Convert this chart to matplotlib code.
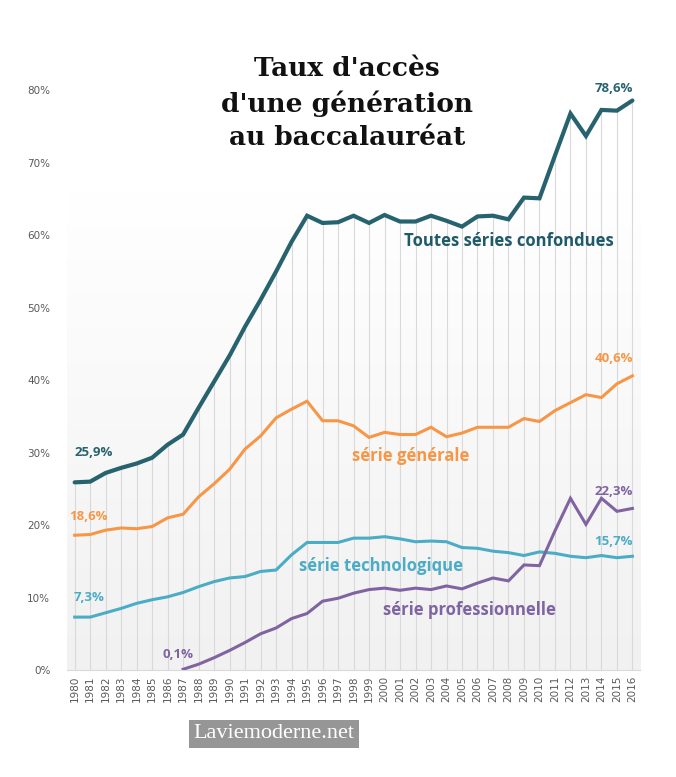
import numpy as np
import matplotlib
matplotlib.use("Agg")
import matplotlib.pyplot as plt

# data (percent)
years = list(range(1980, 2017))
total = [25.9, 26.0, 27.2, 27.9, 28.5, 29.3, 31.1, 32.5, 36.2, 39.8, 43.4, 47.4, 51.1, 55.0, 59.1,
         62.7, 61.7, 61.8, 62.7, 61.7, 62.8, 61.9, 61.9, 62.7, 62.0, 61.2, 62.6, 62.7, 62.2, 65.2,
         65.1, 71.0, 76.8, 73.7, 77.3, 77.2, 78.6]
generale = [18.6, 18.7, 19.3, 19.6, 19.5, 19.8, 21.0, 21.5, 23.9, 25.7, 27.7, 30.5, 32.3, 34.8, 36.0,
            37.1, 34.4, 34.4, 33.7, 32.1, 32.8, 32.5, 32.5, 33.5, 32.2, 32.7, 33.5, 33.5, 33.5, 34.7,
            34.3, 35.8, 36.9, 38.0, 37.6, 39.5, 40.6]
techno = [7.3, 7.3, 7.9, 8.5, 9.2, 9.7, 10.1, 10.7, 11.5, 12.2, 12.7, 12.9, 13.6, 13.8, 15.9,
          17.6, 17.6, 17.6, 18.2, 18.2, 18.4, 18.1, 17.7, 17.8, 17.7, 16.9, 16.8, 16.4, 16.2, 15.8,
          16.3, 16.1, 15.7, 15.5, 15.8, 15.5, 15.7]
pro_years = list(range(1987, 2017))
pro = [0.1, 0.8, 1.7, 2.7, 3.8, 5.0, 5.8, 7.1, 7.8, 9.5, 9.9, 10.6, 11.1, 11.3, 11.0,
       11.3, 11.1, 11.6, 11.2, 12.0, 12.7, 12.3, 14.5, 14.4, 19.2, 23.7, 20.1, 23.7, 21.9, 22.3]

c_total = "#27626f"
c_gen = "#f79646"
c_tech = "#4bacc6"
c_pro = "#8064a2"

fig = plt.figure(figsize=(6.76, 7.77), dpi=100)
ax = fig.add_axes([0.099, 0.1377, 0.848, 0.746])
ax.set_xlim(1979.5, 2016.5)
ax.set_ylim(0, 80)

# soft grey gradient behind the lines
grad = np.linspace(0, 1, 256).reshape(-1, 1)
ax.imshow(grad, extent=(1979.5, 2016.5, 0, 66), aspect="auto", origin="upper",
          cmap=matplotlib.colors.LinearSegmentedColormap.from_list("g", ["#ffffff", "#f1f1f1"]),
          zorder=0)

# drop lines from the top series
ax.vlines(years, 0, total, color="#d9d9d9", lw=0.8, zorder=1)

ax.plot(years, total, color=c_total, lw=3.0, zorder=5, solid_capstyle="round", solid_joinstyle="miter")
ax.plot(years, generale, color=c_gen, lw=2.2, zorder=4, solid_joinstyle="miter")
ax.plot(years, techno, color=c_tech, lw=2.2, zorder=4, solid_joinstyle="miter")
ax.plot(pro_years, pro, color=c_pro, lw=2.2, zorder=4, solid_joinstyle="miter")

ax.set_yticks(range(0, 81, 10))
ax.set_yticklabels([f"{v}%" for v in range(0, 81, 10)])
ax.set_xticks(years)
ax.set_xticklabels([str(y) for y in years], rotation=90)
ax.tick_params(axis="y", length=0, labelsize=7.5, labelcolor="#595959", pad=12)
ax.tick_params(axis="x", length=0, labelsize=7.5, labelcolor="#595959", pad=4)
for s in ["top", "right", "left"]:
    ax.spines[s].set_visible(False)
ax.spines["bottom"].set_color("#d9d9d9")

lab = dict(fontsize=9.5, fontweight="bold", family="Open Sans", ha="center", va="center", clip_on=False)
ax.text(2014.8, 80.2, "78,6%", color=c_total, **lab)
ax.text(2014.8, 43.0, "40,6%", color=c_gen, **lab)
ax.text(2014.8, 24.6, "22,3%", color=c_pro, **lab)
ax.text(2014.8, 17.7, "15,7%", color=c_tech, **lab)
ax.text(1981.2, 30.0, "25,9%", color=c_total, **lab)
ax.text(1980.9, 21.2, "18,6%", color=c_gen, **lab)
ax.text(1980.9, 10.0, "7,3%", color=c_tech, **lab)
ax.text(1986.7, 2.1, "0,1%", color=c_pro, **lab)

big = dict(fontsize=12, fontweight="bold", family="Open Sans", ha="center", va="center")
ax.text(2008.0, 59.2, "Toutes séries confondues", color="#1f5a6a", **big)
ax.text(2001.7, 29.6, "série générale", color=c_gen, **big)
ax.text(1999.8, 14.3, "série technologique", color=c_tech, **big)
ax.text(2005.5, 8.3, "série professionnelle", color=c_pro, **big)

fig.text(347 / 676, 1 - 103 / 777, "Taux d'accès\nd'une génération\nau baccalauréat",
         ha="center", va="center", fontsize=19, family="DejaVu Serif", fontweight="bold",
         linespacing=1.4, color="#111111")

fig.text(274 / 676, 1 - 734 / 777, "Laviemoderne.net", ha="center", va="center",
         fontsize=16, family="Liberation Serif", color="white",
         bbox=dict(boxstyle="square,pad=0.22", fc="#969696", ec="none"))

fig.savefig("out.png", dpi=100, facecolor="white")
